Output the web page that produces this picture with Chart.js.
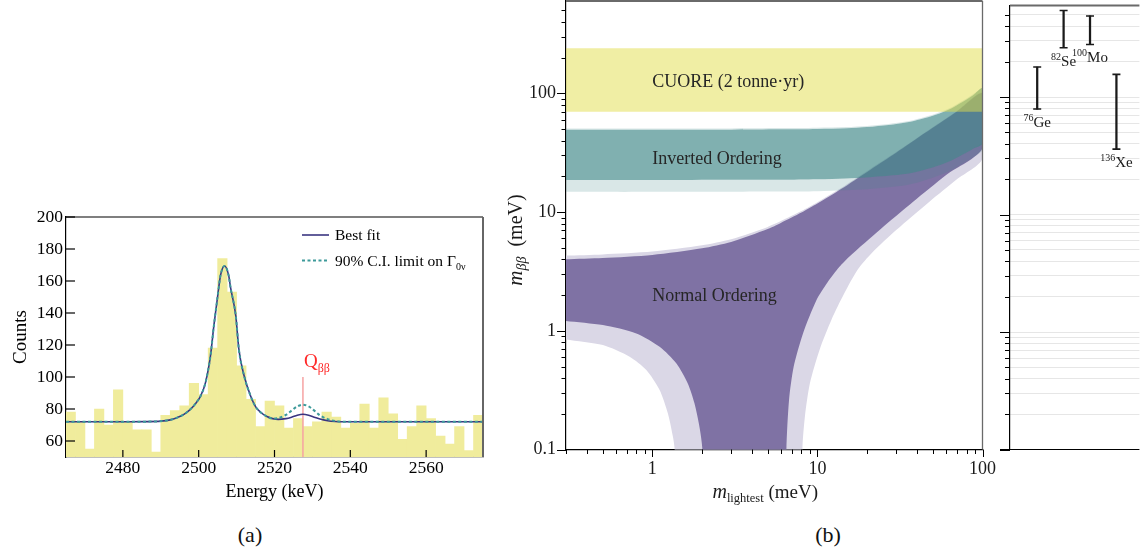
<!DOCTYPE html>
<html lang="en">
<head>
<meta charset="utf-8">
<title>CUORE 0νββ spectrum and effective Majorana mass</title>
<script src="https://cdn.jsdelivr.net/npm/chart.js@4.4.1/dist/chart.umd.min.js"></script>
<style>
  html, body { margin: 0; padding: 0; background: #fff; }
  body { width: 1145px; height: 550px; position: relative; overflow: hidden;
         font-family: "Liberation Serif", "Times New Roman", serif; }
  .pane { position: absolute; }
  .caption { position: absolute; font-size: 22px; color: #111; transform: translate(-50%, -50%); }
</style>
</head>
<body>
<div class="pane" style="left:0;top:200px;width:500px;height:320px"><canvas id="spectrum"></canvas></div>
<div class="pane" style="left:495px;top:0;width:505px;height:520px"><canvas id="massPlane"></canvas></div>
<div class="pane" style="left:1000px;top:0;width:145px;height:460px"><canvas id="isotopeLimits"></canvas></div>
<div class="caption" style="left:250px;top:535px">(a)</div>
<div class="caption" style="left:828px;top:535px">(b)</div>
<script>
const SERIF = '"Liberation Serif", "Times New Roman", serif';

/* ---------- (a) energy spectrum around Qββ ---------- */
const energyMin = 2465, energyMax = 2575;
const countMin = 50, countMax = 200;
const binWidth = 2.5; // keV
const counts = [78, 72, 55, 80, 70, 92, 72, 67, 67, 53,
                76, 79, 82, 96, 89, 118, 174, 153, 107, 86,
                69, 85, 82, 68, 74, 69, 72, 78, 75, 68,
                71, 83, 68, 87, 77, 61, 69, 82, 74, 63,
                58, 69, 54, 76];
const fitEnergy = [2465, 2480, 2486, 2490, 2492.5, 2494.3, 2496, 2497.8, 2499.2, 2500.5,
                   2501.8, 2503.1, 2504.0, 2504.9, 2505.8, 2506.85, 2507.9, 2508.4, 2509.8, 2510.6,
                   2512.0, 2513.7, 2515.0, 2516.4, 2518.0, 2519.5, 2521.0, 2523.0, 2524.5, 2526.0,
                   2527.5, 2529.0, 2530.5, 2532.0, 2534.0, 2536.0, 2538.0, 2545, 2575];
const bestFit = [72, 72, 72.1, 72.4, 73.2, 74.6, 76.5, 79.8, 83.5, 88.1,
                 96.5, 113, 131.9, 148.6, 164, 169.4, 163.5, 156, 138, 117.3,
                 100.6, 88.1, 81.5, 77.8, 75.3, 74.0, 73.5, 74.0, 74.9, 76.1,
                 76.7, 76.1, 74.9, 73.7, 72.7, 72.2, 72.0, 72, 72];
const ciLimit = [72, 72, 72.1, 72.4, 73.2, 74.6, 76.5, 79.8, 83.5, 88.1,
                 96.5, 113, 131.9, 148.6, 164, 169.4, 163.5, 156, 138, 117.3,
                 100.6, 88.1, 81.5, 77.8, 75.3, 74.0, 74.3, 76.3, 79.0, 81.6,
                 82.7, 81.6, 79.0, 76.0, 73.7, 72.5, 72.1, 72, 72];
const qbbEnergy = 2527.5;
const qbbMarkerTop = 100;
const energyTicks = [2480, 2500, 2520, 2540, 2560];
const countTicks = [60, 80, 100, 120, 140, 160, 180, 200];

/* ---------- (b) effective Majorana mass vs lightest neutrino mass ---------- */
const mMin = 0.3, mMax = 100, mbbMin = 0.1, mbbMax = 600;
const cuoreRange = [70, 240];

// inverted ordering: upper / lower edges of the dark band and the wider light band
const ioM        = [0.3, 1, 3, 6, 10, 15, 20, 27, 35, 42, 52, 65, 76, 88, 100];
const ioDarkHi   = [49.4, 49.4, 49.5, 49.8, 50.2, 50.9, 52, 54.1, 57, 60.5, 66, 75, 85, 97, 110];
const ioDarkLo   = [18.6, 18.6, 18.7, 18.7, 18.9, 19.2, 19.6, 20.2, 21.0, 22.2, 24.2, 27.2, 30.5, 34.2, 38];
const ioLightHi  = [50.6, 50.6, 50.7, 51, 51.4, 52.1, 53.2, 55.3, 58.2, 61.8, 67.4, 76.5, 86.7, 98.8, 112];
const ioLightLo  = [14.8, 14.8, 14.85, 14.9, 15.0, 15.3, 15.6, 16.2, 16.9, 18.0, 19.8, 22.5, 25.5, 29, 33];

// normal ordering: upper edges
const noM        = [0.3, 0.5, 1, 2, 3, 5, 6, 8, 10, 14, 20, 30, 45, 70, 100];
const noDarkHi   = [4.0, 4.1, 4.35, 4.95, 5.6, 7.2, 8.1, 9.9, 11.8, 15.7, 21.8, 31.6, 46.5, 70.5, 100];
const noLightHi  = [4.3, 4.4, 4.65, 5.25, 5.9, 7.5, 8.4, 10.2, 12.1, 16.0, 22.2, 32.0, 47, 71, 101];
// normal ordering: lower edges, right branch (from heavy to light) and left branch
const noDarkLoRM  = [100, 60.5, 38, 23.9, 15.7, 13.6, 11.5, 9.86, 8.18, 7.18, 6.73, 6.49];
const noDarkLoR   = [34.5, 20.6, 12.2, 7.1, 4.25, 3.46, 2.55, 1.81, 0.95, 0.497, 0.26, 0.1];
const noDarkLoLM  = [2.01, 1.93, 1.80, 1.64, 1.40, 1.107, 0.8, 0.502, 0.3];
const noDarkLoL   = [0.1, 0.155, 0.245, 0.36, 0.53, 0.733, 0.95, 1.117, 1.21];
const noLightLoRM = [100, 70, 47.9, 30, 21.5, 17.6, 14.5, 12.2, 10.3, 9.0, 8.4, 8.11];
const noLightLoR  = [28.3, 18.9, 12.3, 7.05, 4.57, 3.3, 2.05, 1.25, 0.69, 0.36, 0.19, 0.1];
const noLightLoLM = [1.365, 1.333, 1.243, 1.107, 0.92, 0.729, 0.502, 0.3];
const noLightLoL  = [0.1, 0.128, 0.201, 0.317, 0.467, 0.604, 0.758, 0.846];

const massTickLabels = { 0.1: '0.1', 1: '1', 10: '10', 100: '100' };
const bandLabels = [
  { text: 'CUORE (2 tonne\u00b7yr)', m: 1, v: 125 },
  { text: 'Inverted Ordering',       m: 1, v: 28 },
  { text: 'Normal Ordering',         m: 1, v: 1.95 }
];

// limits from other isotopes
const isotopeNames = ['Ge', 'Se', 'Mo', 'Xe'];
const massNumbers  = ['76', '82', '100', '136'];
const limitLow     = [79, 263, 280, 36];
const limitHigh    = [180, 545, 490, 156];
const isotopeSlot  = [1, 2, 3, 4];

/* ---------- helpers ---------- */
const pts = (xs, ys) => xs.map((x, i) => ({ x, y: ys[i] }));
const isDecade = v => Math.abs(Math.log10(v) - Math.round(Math.log10(v))) < 1e-9;
function logTicks(lo, hi) {
  const out = [];
  for (let e = -1; e <= 2; e++) for (let k = 1; k < 10; k++) {
    const v = +(k * Math.pow(10, e)).toPrecision(3);
    if (v >= lo - 1e-9 && v < hi - 1e-9) out.push(v);
  }
  if (!out.includes(hi) && isDecade(hi)) out.push(hi);
  return out;
}
const massXTicks = logTicks(mMin, mMax);
const massYTicks = logTicks(mbbMin, mbbMax);

function drawRich(ctx, parts, x, y, align) {
  let w = 0;
  for (const p of parts) { ctx.font = p.font; w += ctx.measureText(p.t).width; }
  let cx = align === 'center' ? x - w / 2 : (align === 'right' ? x - w : x);
  ctx.textAlign = 'left';
  ctx.textBaseline = 'alphabetic';
  for (const p of parts) {
    ctx.font = p.font;
    ctx.fillStyle = p.color || '#000';
    ctx.fillText(p.t, cx, y + (p.dy || 0));
    cx += ctx.measureText(p.t).width;
  }
}
function seg(ctx, x1, y1, x2, y2) { ctx.beginPath(); ctx.moveTo(x1, y1); ctx.lineTo(x2, y2); ctx.stroke(); }

Chart.defaults.font.family = SERIF;
Chart.defaults.animation = false;
Chart.defaults.events = [];
Chart.defaults.plugins.legend.display = false;
Chart.defaults.plugins.tooltip.enabled = false;

/* ---------- (a) ---------- */
const fitColor = '#3a3580';
const ciColor = '#3d9a9a';
const spectrumDecor = {
  id: 'spectrumDecor',
  afterDraw(chart) {
    const { ctx, chartArea: a, scales: { x, y } } = chart;
    ctx.save();
    ctx.strokeStyle = '#000';
    ctx.lineWidth = 1.2;
    for (const t of x.ticks) { const px = x.getPixelForValue(t.value); seg(ctx, px, a.bottom, px, a.bottom - 7); }
    for (const t of y.ticks) { const py = y.getPixelForValue(t.value); seg(ctx, a.left, py, a.left + 9, py); }
    seg(ctx, a.left, a.top, a.right, a.top);
    ctx.strokeStyle = '#666'; ctx.lineWidth = 2;
    seg(ctx, a.right, a.top, a.right, a.bottom);
    // Q_bb label
    const qx = x.getPixelForValue(qbbEnergy), qy = y.getPixelForValue(qbbMarkerTop);
    drawRich(ctx, [
      { t: 'Q', font: `19px ${SERIF}`, color: '#ff2a2a' },
      { t: '\u03b2\u03b2', font: `12px ${SERIF}`, color: '#ff2a2a', dy: 5 }
    ], qx + 1, qy - 10, 'left');
    // legend
    ctx.lineWidth = 1.6; ctx.strokeStyle = fitColor;
    seg(ctx, 302, 35, 329, 35);
    ctx.setLineDash([3, 2.5]); ctx.lineWidth = 2; ctx.strokeStyle = ciColor;
    seg(ctx, 302, 60.5, 329, 60.5);
    ctx.setLineDash([]);
    drawRich(ctx, [{ t: 'Best fit', font: `15.5px ${SERIF}` }], 335, 40, 'left');
    drawRich(ctx, [
      { t: '90% C.I. limit on \u0393', font: `15.5px ${SERIF}` },
      { t: '0\u03bd', font: `10px ${SERIF}`, dy: 4 }
    ], 335, 65.5, 'left');
    ctx.restore();
  }
};

new Chart(document.getElementById('spectrum'), {
  type: 'bar',
  data: {
    datasets: [
      { type: 'line', data: pts(fitEnergy, ciLimit), borderColor: ciColor, borderWidth: 2,
        borderDash: [3, 2.5], pointRadius: 0, cubicInterpolationMode: 'monotone', order: 0 },
      { type: 'line', data: pts(fitEnergy, bestFit), borderColor: fitColor, borderWidth: 1.6,
        pointRadius: 0, cubicInterpolationMode: 'monotone', order: 1 },
      { type: 'line', data: [{ x: qbbEnergy, y: qbbMarkerTop }, { x: qbbEnergy, y: countMin }],
        borderColor: '#f6a3a3', borderWidth: 1.5, pointRadius: 0, order: 2 },
      { type: 'bar', data: counts.map((c, i) => ({ x: energyMin + binWidth * (i + 0.5), y: c })),
        backgroundColor: '#f0ec9c', barPercentage: 1, categoryPercentage: 1, borderWidth: 0, order: 3 }
    ]
  },
  options: {
    responsive: true, maintainAspectRatio: false,
    layout: { padding: { top: 17, right: 17, left: 0, bottom: 0 } },
    scales: {
      x: {
        type: 'linear', min: energyMin, max: energyMax, offset: false,
        afterBuildTicks: s => { s.ticks = energyTicks.map(v => ({ value: v })); },
        afterFit: s => { s.height = 63; s.paddingLeft = 0; s.paddingRight = 0; },
        ticks: { font: { size: 17.5 }, color: '#000', padding: 1, maxRotation: 0, autoSkip: false,
                 callback: v => String(v) },
        grid: { display: false, drawTicks: false },
        border: { color: '#000', width: 1.2 },
        title: { display: true, text: 'Energy (keV)', font: { size: 18 }, color: '#000', padding: { top: 0, bottom: 17 } }
      },
      y: {
        type: 'linear', min: countMin, max: countMax,
        afterBuildTicks: s => { s.ticks = countTicks.map(v => ({ value: v })); },
        afterFit: s => { s.width = 66; s.paddingTop = 0; s.paddingBottom = 0; },
        ticks: { font: { size: 17.5 }, color: '#000', padding: 3, callback: v => String(v) },
        grid: { display: false, drawTicks: false },
        border: { color: '#000', width: 1.2 },
        title: { display: true, text: 'Counts', font: { size: 19 }, color: '#000', padding: { top: 10, bottom: 0 } }
      }
    }
  },
  plugins: [spectrumDecor]
});

/* ---------- (b) ---------- */
const belowAxis = 0.02;
const noDarkOutline = [
  ...pts(noM, noDarkHi),
  ...pts(noDarkLoRM, noDarkLoR),
  { x: noDarkLoRM[noDarkLoRM.length - 1], y: belowAxis },
  { x: noDarkLoLM[0], y: belowAxis },
  ...pts(noDarkLoLM, noDarkLoL)
];
const noLightOutline = [
  ...pts(noM, noLightHi),
  ...pts(noLightLoRM, noLightLoR),
  { x: noLightLoRM[noLightLoRM.length - 1], y: belowAxis },
  { x: noLightLoLM[0], y: belowAxis },
  ...pts(noLightLoLM, noLightLoL)
];
const ioDarkOutline = [...pts(ioM, ioDarkHi), ...pts(ioM, ioDarkLo).reverse()];
const ioLowStrip = [...pts(ioM, ioDarkLo), ...pts(ioM, ioLightLo).reverse()];
const ioHighStrip = [...pts(ioM, ioLightHi), ...pts(ioM, ioDarkHi).reverse()];
const cuoreOutline = [
  { x: mMin, y: cuoreRange[1] }, { x: mMax, y: cuoreRange[1] },
  { x: mMax, y: cuoreRange[0] }, { x: mMin, y: cuoreRange[0] }
];

function band(outline, color, order, tension) {
  return { type: 'line', data: outline, fill: 'shape', backgroundColor: color,
           borderColor: 'transparent', borderWidth: 0, pointRadius: 0, tension, order };
}

const massDecor = {
  id: 'massDecor',
  afterDatasetsDraw(chart) {
    const { ctx, scales: { x, y } } = chart;
    ctx.save();
    ctx.fillStyle = '#262626';
    ctx.font = `18px ${SERIF}`;
    ctx.textAlign = 'left';
    ctx.textBaseline = 'middle';
    for (const b of bandLabels) ctx.fillText(b.text, x.getPixelForValue(b.m), y.getPixelForValue(b.v));
    ctx.restore();
  },
  afterDraw(chart) {
    const { ctx, chartArea: a, scales: { x, y } } = chart;
    ctx.save();
    ctx.strokeStyle = '#000';
    ctx.lineWidth = 1;
    for (const t of y.ticks) {
      const py = Math.round(y.getPixelForValue(t.value)) + 0.5;
      seg(ctx, a.left - (isDecade(t.value) ? 9 : 4.5), py, a.left, py);
    }
    for (const t of x.ticks) {
      const px = Math.round(x.getPixelForValue(t.value)) + 0.5;
      seg(ctx, px, a.bottom, px, a.bottom + (isDecade(t.value) ? 7.5 : 4.5));
    }
    ctx.strokeStyle = '#6a6a6a';
    ctx.lineWidth = 2;
    seg(ctx, a.left, a.top, a.right, a.top);
    ctx.lineWidth = 1.3;
    seg(ctx, a.right, a.top, a.right, a.bottom);
    // axis titles
    drawRich(ctx, [
      { t: 'm', font: `italic 20px ${SERIF}`, color: '#1a1a1a' },
      { t: 'lightest', font: `12.5px ${SERIF}`, color: '#1a1a1a', dy: 4 },
      { t: ' (meV)', font: `19px ${SERIF}`, color: '#1a1a1a' }
    ], (a.left + a.right) / 2 - 9, 497.5, 'center');
    ctx.translate(27, 240);
    ctx.rotate(-Math.PI / 2);
    drawRich(ctx, [
      { t: 'm', font: `italic 21px ${SERIF}`, color: '#1a1a1a' },
      { t: '\u03b2\u03b2', font: `italic 14px ${SERIF}`, color: '#1a1a1a', dy: 4 },
      { t: '  (meV)', font: `20px ${SERIF}`, color: '#1a1a1a' }
    ], 0, 0, 'center');
    ctx.restore();
  }
};

new Chart(document.getElementById('massPlane'), {
  type: 'line',
  data: {
    datasets: [
      band(cuoreOutline, 'rgba(225,221,73,0.5)', 0, 0),
      band(ioDarkOutline, 'rgba(64,136,136,0.665)', 1, 0.3),
      band(ioLowStrip, 'rgba(64,136,136,0.2)', 2, 0.3),
      band(ioHighStrip, 'rgba(64,136,136,0.2)', 2, 0.3),
      band(noDarkOutline, '#7f72a4', 3, 0.25),
      band(noLightOutline, '#dad7e6', 4, 0.25)
    ]
  },
  options: {
    responsive: true, maintainAspectRatio: false,
    layout: { padding: { top: 1, right: 17.5, left: 0, bottom: 0 } },
    scales: {
      x: {
        type: 'logarithmic', min: mMin, max: mMax,
        afterBuildTicks: s => { s.ticks = massXTicks.map(v => ({ value: v, major: isDecade(v) })); },
        afterFit: s => { s.height = 70.5; s.paddingLeft = 0; s.paddingRight = 0; },
        ticks: { font: { size: 18 }, color: '#1a1a1a', padding: 9, maxRotation: 0, autoSkip: false,
                 callback: v => massTickLabels[v] || '' },
        grid: { display: false, drawTicks: false },
        border: { color: '#000', width: 1.2 }
      },
      y: {
        type: 'logarithmic', min: mbbMin, max: mbbMax,
        afterBuildTicks: s => { s.ticks = massYTicks.map(v => ({ value: v, major: isDecade(v) })); },
        afterFit: s => { s.width = 71; s.paddingTop = 0; s.paddingBottom = 0; },
        ticks: { font: { size: 18 }, color: '#1a1a1a', padding: 10, autoSkip: false,
                 callback: v => massTickLabels[v] || '' },
        grid: { display: false, drawTicks: false },
        border: { color: '#000', width: 1.2 }
      }
    }
  },
  plugins: [massDecor]
});

/* ---------- (b) side panel: limits from other isotopes ---------- */
const isotopeDecor = {
  id: 'isotopeDecor',
  afterDraw(chart) {
    const { ctx, chartArea: a, scales: { x, y } } = chart;
    ctx.save();
    ctx.strokeStyle = '#000';
    ctx.lineWidth = 1;
    for (const t of y.ticks) {
      const py = Math.round(y.getPixelForValue(t.value)) + 0.5;
      seg(ctx, a.left - (isDecade(t.value) ? 10 : 5), py, a.left, py);
    }
    ctx.lineWidth = 1.2;
    seg(ctx, 0, a.bottom, a.right, a.bottom);
    ctx.strokeStyle = '#6a6a6a';
    ctx.lineWidth = 2;
    seg(ctx, a.left, a.top, a.right, a.top);
    isotopeNames.forEach((name, i) => {
      const px = x.getPixelForValue(isotopeSlot[i]);
      const py = y.getPixelForValue(limitLow[i]);
      drawRich(ctx, [
        { t: massNumbers[i], font: `10px ${SERIF}`, color: '#1a1a1a', dy: -6 },
        { t: name, font: `15px ${SERIF}`, color: '#1a1a1a' }
      ], px, py + 18, 'center');
    });
    ctx.restore();
  }
};

new Chart(document.getElementById('isotopeLimits'), {
  type: 'bar',
  data: {
    datasets: [
      { type: 'scatter',
        data: [...pts(isotopeSlot, limitLow), ...pts(isotopeSlot, limitHigh)],
        pointStyle: 'line', pointRadius: 4, pointBorderWidth: 1.6,
        borderColor: '#1a1a1a', pointBorderColor: '#1a1a1a', order: 0 },
      { type: 'bar',
        data: isotopeSlot.map((s, i) => ({ x: s, y: [limitLow[i], limitHigh[i]] })),
        backgroundColor: '#1a1a1a', barThickness: 1.6, borderWidth: 0, order: 1 }
    ]
  },
  options: {
    responsive: true, maintainAspectRatio: false,
    layout: { padding: { top: 1, right: 0, left: 0, bottom: 10.5 } },
    scales: {
      x: { type: 'linear', min: -0.03, max: 4.87, offset: false, display: false, grid: { offset: false } },
      y: {
        type: 'logarithmic', min: mbbMin, max: mbbMax,
        afterBuildTicks: s => { s.ticks = massYTicks.map(v => ({ value: v })); },
        afterFit: s => { s.width = 10; s.paddingTop = 0; s.paddingBottom = 0; },
        ticks: { display: false },
        grid: { color: '#e6e6e6', lineWidth: 1, drawTicks: false },
        border: { color: '#000', width: 1.2 }
      }
    }
  },
  plugins: [isotopeDecor]
});
</script>
</body>
</html>
